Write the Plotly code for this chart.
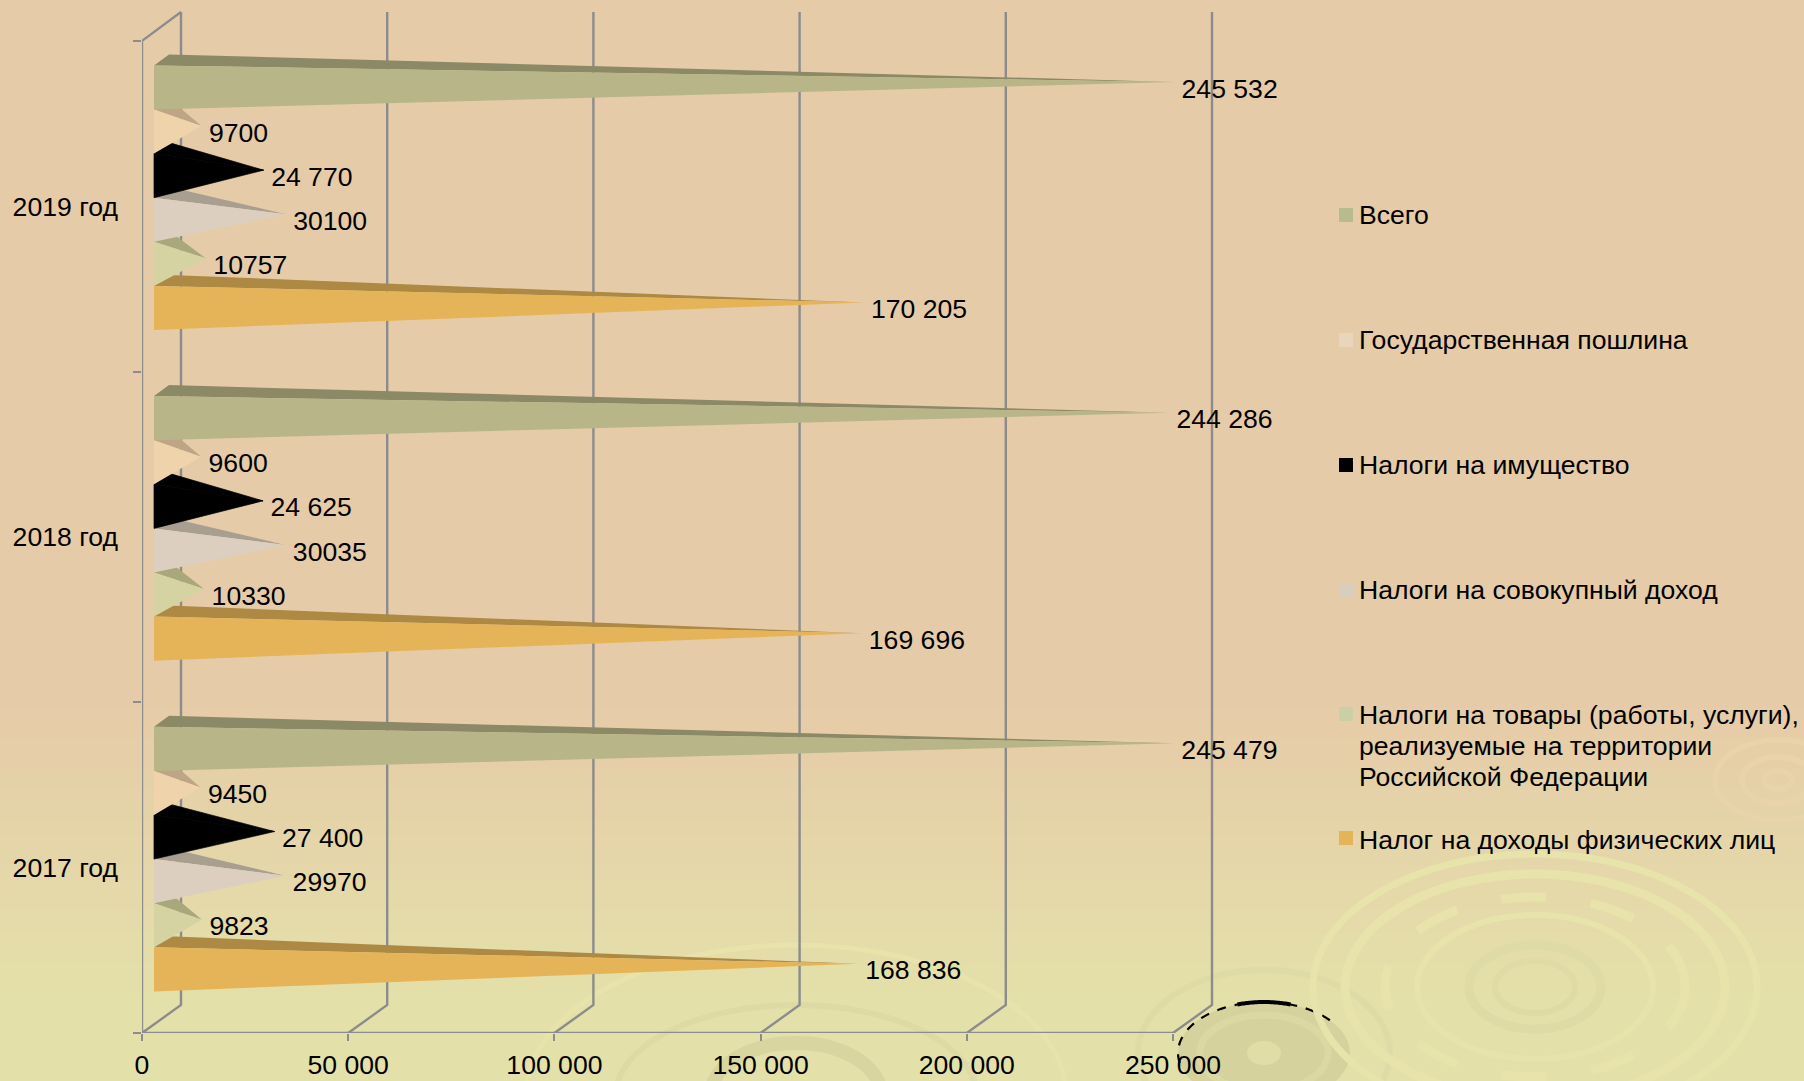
import math
import plotly.graph_objects as go

# ---------- data ----------
years = ["2017 год", "2018 год", "2019 год"]
series_names = ["Налог на доходы физических лиц",
                "Налоги на товары (работы, услуги), реализуемые на территории Российской Федерации",
                "Налоги на совокупный доход", "Налоги на имущество",
                "Государственная пошлина", "Всего"]
ndfl = [168836, 169696, 170205]
tovary = [9823, 10330, 10757]
sovokupny = [29970, 30035, 30100]
imushchestvo = [27400, 24625, 24770]
poshlina = [9450, 9600, 9700]
vsego = [245479, 244286, 245532]
ndfl_labels = ["168 836", "169 696", "170 205"]
tovary_labels = ["9823", "10330", "10757"]
sovokupny_labels = ["29970", "30035", "30100"]
imushchestvo_labels = ["27 400", "24 625", "24 770"]
poshlina_labels = ["9450", "9600", "9700"]
vsego_labels = ["245 479", "244 286", "245 532"]
x_ticks = [0, 50000, 100000, 150000, 200000, 250000]
x_tick_labels = ["0", "50 000", "100 000", "150 000", "200 000", "250 000"]
legend_lines = [["Всего"], ["Государственная пошлина"], ["Налоги на имущество"],
                ["Налоги на совокупный доход"],
                ["Налоги на товары (работы, услуги),", "реализуемые на территории", "Российской Федерации"],
                ["Налог на доходы физических лиц"]]

# ---------- style / geometry ----------
W, H = 1804, 1081
PX_X = 206.2 / 50000      # px per value
PX_Y = 330.7              # px per category band
X0, Y0 = 142, 1033        # px of the origin
GRID = "#8C8C8C"
TXT = "#000000"
FONT = "Liberation Sans, Arial, sans-serif"
FS = 26.6

def dx(px): return px / PX_X
def dy(px): return px / PX_Y
def pxx(px): return px / W
def pxy(px): return 1 - px / H

styles = [  # bottom to top within a group: front colour, top colour, legend colour
    ("#E5B458", "#AE8944", "#E5B458"),
    ("#D6D3A2", "#A9A77C", "#CBCFA5"),
    ("#DDCFBF", "#A89F90", "#D9CDBD"),
    ("#000000", "#000000", "#000000"),
    ("#EED3AB", "#BDA585", "#E8D5BC"),
    ("#B8B688", "#8C8A66", "#B8BB8F"),
]
all_values = [ndfl, tovary, sovokupny, imushchestvo, poshlina, vsego]
all_labels = [ndfl_labels, tovary_labels, sovokupny_labels, imushchestvo_labels, poshlina_labels, vsego_labels]

BAR_X = dx(12)          # start of the front face
DEPTH_X, DEPTH_Y = dx(15), dy(11)
GROUP_BOTTOM = dy(41.6)
BAR_H = dy(44.1)
WALL_X, WALL_Y = dx(39), dy(28)
TOP = (Y0 - 12) / PX_Y

fig = go.Figure()

# ---------- back wall, floor, axis lines ----------
gx, gy = [], []
for v in x_ticks:
    gx += [v, v + WALL_X, v + WALL_X, None]
    gy += [0, WALL_Y, TOP, None]
gx += [0, 0, WALL_X, None, 0, x_ticks[-1]]
gy += [0, 3, TOP, None, 0, 0]
fig.add_trace(go.Scatter(x=gx, y=gy, mode="lines", line=dict(color=GRID, width=2.4),
                         cliponaxis=False, showlegend=False, hoverinfo="skip"))

# ---------- cone bars: each upper bar covers the back of the one below ----------
for c in [0, 1, 2]:
    for s in [0, 1, 2, 3, 4, 5]:
        v = all_values[s][c]
        front, top, _ = styles[s]
        seam = 0.7 if front == "#000000" else 0
        y_b = c + GROUP_BOTTOM + s * BAR_H
        y_t = y_b + BAR_H
        apex_x = BAR_X + DEPTH_X / 2 + v
        apex_y = (y_b + y_t) / 2 + DEPTH_Y / 2
        fig.add_trace(go.Scatter(
            x=[BAR_X, BAR_X + DEPTH_X, apex_x, BAR_X],
            y=[y_t, y_t + DEPTH_Y, apex_y, y_t],
            fill="toself", fillcolor=top, mode="lines", line=dict(width=seam, color=top),
            showlegend=False, hoverinfo="skip"))
        fig.add_trace(go.Scatter(
            x=[BAR_X, BAR_X, apex_x, BAR_X],
            y=[y_t, y_b, apex_y, y_t],
            fill="toself", fillcolor=front, mode="lines", line=dict(width=seam, color=front),
            showlegend=False, name=series_names[s], hoverinfo="skip"))

# ---------- value labels ----------
for s in range(6):
    xs, ys = [], []
    for c in range(3):
        y_b = c + GROUP_BOTTOM + s * BAR_H
        xs.append(BAR_X + DEPTH_X / 2 + all_values[s][c] + dx(7.5))
        ys.append(y_b + BAR_H / 2 + DEPTH_Y / 2 - dy(9))
    fig.add_trace(go.Scatter(x=xs, y=ys, mode="text", text=all_labels[s], textposition="middle right",
                             textfont=dict(family=FONT, size=FS, color=TXT),
                             cliponaxis=False, showlegend=False, hoverinfo="skip"))

# ---------- page background ----------
shapes = []
def lerp(a, b, t): return round(a + (b - a) * t)
TOPC, BOTC = (230, 203, 168), (228, 224, 169)
G0, G1, N = 700, 1000, 40
shapes.append(dict(type="rect", xref="paper", yref="paper", x0=0, x1=1, y0=pxy(G0), y1=1,
                   fillcolor="rgb(%d,%d,%d)" % TOPC, line=dict(width=0), layer="below"))
for i in range(N):
    t = (i + 0.5) / N
    y0 = G0 + (G1 - G0) * i / N
    col = "rgb(%d,%d,%d)" % tuple(lerp(TOPC[k], BOTC[k], t) for k in range(3))
    y1 = H if i == N - 1 else y0 + (G1 - G0) / N + 1
    shapes.append(dict(type="rect", xref="paper", yref="paper", x0=0, x1=1, y0=pxy(y1), y1=pxy(y0),
                       fillcolor=col, line=dict(width=0), layer="below"))

def ell(cx, cy, rx, ry, color=None, lw=0, fill=None, dash=None):
    line = dict(width=lw, color=color or "rgba(0,0,0,0)")
    if dash:
        line["dash"] = dash
    shapes.append(dict(type="circle", xref="paper", yref="paper",
                       x0=pxx(cx - rx), x1=pxx(cx + rx), y0=pxy(cy + ry), y1=pxy(cy - ry),
                       fillcolor=fill or "rgba(0,0,0,0)", line=line, layer="below"))

def arc(cx, cy, rx, ry, a0, a1, color, lw, dash=None):
    pts = []
    for i in range(41):
        a = math.radians(a0 + (a1 - a0) * i / 40)
        pts.append((pxx(cx + rx * math.cos(a)), pxy(cy - ry * math.sin(a))))
    path = "M " + " L ".join("%.5f %.5f" % p for p in pts)
    line = dict(width=lw, color=color)
    if dash:
        line["dash"] = dash
    shapes.append(dict(type="path", xref="paper", yref="paper", path=path, line=line, layer="below"))

LIGHT, DARK = "#E7E3AB", "#DDDAA5"
# lower centre ripple
ell(796, 1095, 270, 150, LIGHT, 5)
ell(796, 1095, 180, 90, DARK, 6)
ell(796, 1095, 85, 52, "#D8D5A1", 14)
# right ripple with its stray disc
ell(1264, 1053, 126, 83, "#DEDBA6", 6)
ell(1264, 1053, 86, 51, fill="#D5D29E")
arc(1264, 1053, 86, 51, 40, 200, "#000000", 2.2, dash="dash")
arc(1264, 1053, 86, 51, 72, 108, "#000000", 4)
ell(1264, 1053, 64, 38, "#DBD8A3", 7)
ell(1264, 1053, 17, 12, fill="#E0DDA7")
# large ripple
ell(1535, 987, 222, 133, LIGHT, 7)
ell(1535, 987, 190, 113, LIGHT, 9)
ell(1535, 987, 150, 90, LIGHT, 9, dash="longdash")
ell(1535, 987, 118, 72, LIGHT, 6)
ell(1535, 987, 66, 42, "#DEDBA6", 9)
ell(1535, 987, 40, 26, "#DEDBA6", 6)
# upper right ripple
ell(1778, 780, 63, 40, "#E9D3AA", 5)
ell(1778, 780, 36, 23, "#E9D3AA", 6)
ell(1778, 780, 14, 9, "#E9D3AA", 6)

# ---------- legend ----------
annotations = []
rows = [(215, 215, 0), (340, 340, 1), (465, 465, 2), (590, 590, 3), (714, 715, 4), (838, 840, 5)]
LINE = 31
for ys, yt, i in rows:
    col = styles[5 - i][2]
    shapes.append(dict(type="rect", xref="paper", yref="paper", x0=pxx(1339), x1=pxx(1353),
                       y0=pxy(ys + 7), y1=pxy(ys - 7), fillcolor=col, line=dict(width=0)))
    for j, line in enumerate(legend_lines[i]):
        annotations.append(dict(xref="paper", yref="paper", x=pxx(1356.6), y=pxy(yt + j * LINE),
                                xanchor="left", yanchor="middle", showarrow=False, text=line,
                                font=dict(family=FONT, size=FS, color=TXT)))

fig.update_layout(
    template="none", width=W, height=H, margin=dict(l=0, r=0, t=0, b=0, pad=0),
    paper_bgcolor="rgb(230,203,168)", plot_bgcolor="rgba(0,0,0,0)", showlegend=False,
    shapes=shapes, annotations=annotations,
    xaxis=dict(domain=[pxx(X0), pxx(1216)], range=[0, (1216 - X0) / PX_X], tickmode="array",
               tickvals=x_ticks, ticktext=x_tick_labels, ticks="outside", ticklen=7, tickwidth=2,
               tickcolor=GRID, showgrid=False, zeroline=False, showline=False, automargin=False,
               ticklabelstandoff=1, tickfont=dict(family=FONT, size=FS, color=TXT)),
    yaxis=dict(domain=[pxy(Y0), pxy(8)], range=[0, (Y0 - 8) / PX_Y], tickmode="array",
               tickvals=[0.5, 1.5, 2.5], ticktext=years, ticks="", showgrid=False, zeroline=False,
               showline=False, automargin=False, ticklabelstandoff=23,
               tickfont=dict(family=FONT, size=FS, color=TXT),
               minor=dict(tickmode="array", tickvals=[0, 1, 2, 3], ticks="outside", ticklen=8,
                          tickwidth=2, tickcolor=GRID, showgrid=False)),
)

fig.write_html("out.html", config={"displayModeBar": False},
               post_script="document.body.style.margin='0';document.body.style.overflow='hidden';")
